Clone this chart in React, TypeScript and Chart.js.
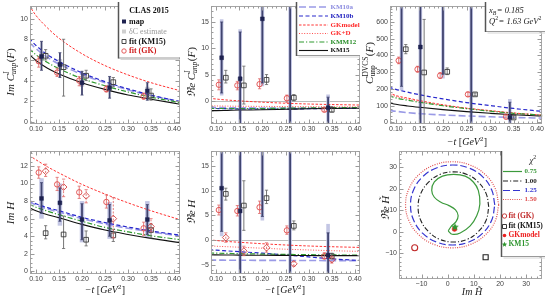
import React, { useEffect, useRef } from "react";
import { Chart, registerables } from "chart.js";
Chart.register(...registerables);

const W = 547;
const H = 302;

// ---------- kinematic bins (-t) ----------
const T_GK = [0.106, 0.146, 0.194, 0.253, 0.334];
const T_MAP = [0.112, 0.152, 0.2, 0.26, 0.342];
const T_KM = [0.121, 0.16, 0.209, 0.268, 0.35];
const T_CURVE = [0.085, 0.1, 0.125, 0.15, 0.2, 0.25, 0.3, 0.35, 0.415];
const T_TICKS = [0.1, 0.15, 0.2, 0.25, 0.3, 0.35, 0.4];

// ---------- panel 1 : Im C^I_unp(F) ----------
const imCMap = [6.33, 5.56, 3.79, 3.32, 3.0];
const imCMapLo = [5.0, 4.3, 2.6, 2.3, 2.1];
const imCMapHi = [7.8, 6.7, 4.9, 4.4, 3.8];
const imCBandLo = [5.9, 5.0, 3.4, 2.9, 2.6];
const imCBandHi = [6.8, 6.1, 4.2, 3.8, 3.4];
const imCGK = [5.87, 4.78, 4.0, 3.17, 2.48];
const imCGKLo = [5.3, 4.4, 3.5, 2.9, 2.2];
const imCGKHi = [6.3, 5.2, 4.4, 3.5, 2.8];
const imCKM = [6.4, 5.3, 4.47, 3.85, 2.55];
const imCKMLo = [6.0, 2.5, 4.0, 3.4, 2.1];
const imCKMHi = [7.0, 8.0, 5.0, 4.3, 3.2];
const imC_KM10a = [7.7, 7.1, 6.25, 5.6, 4.6, 3.8, 3.1, 2.55, 1.95];
const imC_KM10b = [8.1, 7.4, 6.5, 5.85, 4.75, 3.9, 3.2, 2.6, 1.95];
const imC_GK = [11.3, 10.3, 9.1, 8.1, 6.6, 5.45, 4.55, 3.8, 3.0];
const imC_KMM12 = [7.1, 6.5, 5.75, 5.15, 4.2, 3.5, 2.9, 2.4, 1.85];
const imC_KM15 = [6.55, 5.95, 5.2, 4.65, 3.8, 3.15, 2.6, 2.2, 1.7];

// ---------- panel 2 : Re C^I_unp(F) ----------
const reCMap = [8.2, 4.2, 15.6, null, -1.3];
const reCMapLo = [1.5, -10, 3.4, -20, -10];
const reCMapHi = [15.0, 13.1, 30, 30, 0.7];
const reCBandLo = [1.0, -10, 2.8, -20, -10];
const reCBandHi = [15.5, 13.6, 30, 30, 1.2];
const reCGK = [3.06, 2.94, 3.18, 0.5, -1.7];
const reCGKLo = [2.1, 2.1, 2.3, -0.3, -2.0];
const reCGKHi = [4.0, 3.7, 4.2, 1.1, -1.35];
const reCKM = [4.4, 2.94, 4.0, 0.6, -1.7];
const reCKMLo = [3.4, -0.6, 3.1, 0.0, -2.1];
const reCKMHi = [5.8, 6.6, 5.0, 1.2, -1.1];
const reC_KM10a = [-1.25, -1.28, -1.3, -1.32, -1.35, -1.35, -1.35, -1.35, -1.35];
const reC_KM10b = [-1.4, -1.45, -1.5, -1.55, -1.55, -1.55, -1.5, -1.45, -1.4];
const reC_GK = [0.5, 0.35, 0.15, 0.0, -0.25, -0.45, -0.6, -0.7, -0.8];
const reC_GKD = [-0.95, -0.97, -1.0, -1.02, -1.05, -1.08, -1.1, -1.12, -1.15];
const reC_KMM12 = [-1.45, -1.45, -1.45, -1.45, -1.45, -1.4, -1.35, -1.3, -1.25];
const reC_KM15 = [-1.85, -1.85, -1.8, -1.75, -1.7, -1.6, -1.5, -1.45, -1.4];

// ---------- panel 3 : C^DVCS_unp(F) ----------
const cMap = [null, 450, null, null, 30];
const cMapLo = [215, -50, 287, -50, -50];
const cMapHi = [2000, 2000, 2000, 2000, 120];
const cBandLo = [190, -50, 262, -50, -50];
const cBandHi = [2000, 2000, 2000, 2000, 140];
const cGK = [369, 317, 279, 167, 33];
const cGKLo = [350, 300, 262, 155, 25];
const cGKHi = [390, 335, 297, 180, 42];
const cKM = [437, 298, 302, 167, 29];
const cKMLo = [410, -10, 285, 160, 22];
const cKMHi = [465, 615, 325, 175, 38];
const c_KM10a = [72, 66, 58, 52, 44, 38, 33, 29, 25];
const c_KM10b = [210, 197, 180, 165, 140, 118, 100, 83, 64];
const c_GK = [178, 160, 145, 130, 105, 85, 70, 56, 42];
const c_GKD = [170, 154, 138, 124, 101, 83, 68, 55, 42];
const c_KMM12 = [160, 146, 132, 120, 99, 82, 67, 54, 42];
const c_KM15 = [118, 108, 98, 90, 76, 64, 54, 45, 36];

// ---------- panel 4 : Im H ----------
const imHMap = [8.3, 7.8, 5.9, 5.8, 5.9];
const imHMapLo = [6.6, 5.7, 3.6, 4.0, 4.2];
const imHMapHi = [10.1, 9.5, 7.7, 7.6, 7.6];
const imHBandLo = [6.0, 5.2, 3.3, 3.7, 3.8];
const imHBandHi = [10.6, 10.0, 8.0, 7.9, 8.0];
const imHGK = [11.25, 9.9, 9.0, 7.9, 4.9];
const imHGKLo = [10.6, 9.2, 8.3, 7.2, 4.1];
const imHGKHi = [11.9, 10.7, 9.7, 8.7, 5.6];
const imHDia = [11.4, 9.6, 8.6, 6.0, 5.1];
const imHDiaLo = [10.8, 8.5, 7.8, 3.8, 4.5];
const imHDiaHi = [12.2, 10.5, 9.3, 8.4, 6.0];
const imHKM = [4.35, 4.2, 3.6, 4.1, 4.7];
const imHKMLo = [3.7, 2.6, 2.9, 3.4, 3.8];
const imHKMHi = [5.2, 6.3, 4.6, 4.8, 5.4];
const imH_KM10a = [7.9, 7.55, 7.1, 6.75, 6.0, 5.4, 4.9, 4.5, 4.0];
const imH_KM10b = [8.1, 7.7, 7.25, 6.9, 6.15, 5.55, 5.05, 4.6, 4.1];
const imH_GK = [13.2, 12.7, 11.9, 11.2, 9.9, 8.8, 7.8, 6.9, 5.85];
const imH_KMM12 = [7.65, 7.3, 6.85, 6.45, 5.7, 5.0, 4.5, 4.05, 3.6];
const imH_KM15 = [7.25, 6.9, 6.45, 6.1, 5.35, 4.7, 4.2, 3.75, 3.25];

// ---------- panel 5 : Re H ----------
const reHMap = [10.5, 5.9, null, null, -3.0];
const reHMapLo = [1.8, -20, 4.8, -20, -20];
const reHMapHi = [30, 30, 30, 30, 1.5];
const reHBandLo = [0.8, -20, 4.0, -20, -20];
const reHBandHi = [30, 30, 30, 30, 3.3];
const reHGK = [6.1, 5.9, 6.65, 2.0, -3.2];
const reHGKLo = [5.1, 4.9, 5.4, 1.2, -3.8];
const reHGKHi = [7.1, 7.0, 7.9, 2.9, -2.5];
const reHDia = [0.55, -2.2, -1.5, -4.75, -3.9];
const reHDiaLo = [-0.4, -3.1, -2.4, -5.2, -4.6];
const reHDiaHi = [1.5, -1.2, -0.5, -4.3, -3.2];
const reHKM = [9.35, 7.0, 8.5, 2.9, -3.2];
const reHKMLo = [8.1, 2.0, 7.4, 2.1, -3.8];
const reHKMHi = [10.5, 12.0, 10.1, 3.9, -2.6];
const reH_KM10a = [-4.0, -4.0, -4.02, -4.03, -4.05, -4.07, -4.08, -4.1, -4.1];
const reH_KM10b = [-1.9, -2.0, -2.15, -2.3, -2.6, -2.95, -3.35, -3.75, -4.1];
const reH_GK = [0.1, -0.05, -0.25, -0.4, -0.7, -0.95, -1.15, -1.3, -1.45];
const reH_GKD = [-1.1, -1.2, -1.3, -1.4, -1.6, -1.8, -1.95, -2.1, -2.25];
const reH_KMM12 = [-2.55, -2.6, -2.65, -2.7, -2.78, -2.85, -2.9, -2.95, -3.0];
const reH_KM15 = [-2.95, -2.95, -2.97, -3.0, -3.02, -3.05, -3.08, -3.1, -3.1];

// ---------- panel 6 : chi^2 contours in (Im Ht, Re Ht) ----------
const CHI075 = [[0.2, 0.35], [1.7, -1.2], [4.8, -0.6], [8.6, 2.7], [11.1, 7.4], [12.3, 12.9], [11.7, 19.2], [9.8, 23.1], [6.7, 25.8], [2.3, 26.6], [-2.0, 25.8], [-5.1, 23.1], [-6.1, 19.2], [-5.1, 16.0], [-2.6, 13.7], [0.5, 12.1], [3.0, 10.1], [4.0, 7.4], [3.2, 4.7], [1.5, 2.7], [0.2, 0.35]];
const CHI100 = [[15.7, 11.5], [14.7, 17.7], [11.7, 23.0], [7.4, 26.6], [2.2, 27.8], [-3.0, 26.6], [-7.3, 23.0], [-10.3, 17.7], [-11.3, 11.5], [-10.3, 5.3], [-7.3, 0.0], [-3.0, -3.6], [2.2, -4.8], [7.4, -3.6], [11.7, 0.0], [14.7, 5.3], [15.7, 11.5]];
const CHI125 = [[18.0, 12.4], [16.8, 19.5], [13.3, 25.6], [8.1, 29.6], [1.9, 31.0], [-4.3, 29.6], [-9.5, 25.6], [-13.0, 19.5], [-14.2, 12.4], [-13.0, 5.3], [-9.5, -0.8], [-4.3, -4.8], [1.9, -6.2], [8.1, -4.8], [13.3, -0.8], [16.8, 5.3], [18.0, 12.4]];
const CHI150 = [[19.5, 12.5], [18.1, 20.2], [14.3, 26.6], [8.5, 31.0], [1.7, 32.5], [-5.1, 31.0], [-10.9, 26.6], [-14.7, 20.2], [-16.1, 12.5], [-14.7, 4.8], [-10.9, -1.6], [-5.1, -6.0], [1.7, -7.5], [8.5, -6.0], [14.3, -1.6], [18.1, 4.8], [19.5, 12.5]];
const FIT_GK_PT = [[-12.6, -7.5]];
const FIT_KM_PT = [[14.5, -11.9]];
const GKMODEL_PT = [[2.6, 1.2]];
const KM15_PT = [[2.8, 2.1]];
const HT_TICKS = [-10, 0, 10, 20, 30];

// ---------- styles ----------
const NAVY = "#1e2250";
const NAVY_BAR = "#40446f";
const RED = "#e04848";
const RED_BAR = "#e06a6a";
const GRAYK = "#3a3a3a";
const BAND = "#c3c6e4";
const SERIF = '"Liberation Serif", "DejaVu Serif", serif';
const SANS = '"Liberation Sans", "DejaVu Sans", sans-serif';

const CURVE_STYLE: any = {
  KM10a: { color: "#9a9ae6", dash: [7, 3], width: 1.6, text: "#8c8ce0" },
  KM10b: { color: "#2828cc", dash: [4, 2.5], width: 1.2, text: "#2323c0" },
  GKmodel: { color: "#ff3535", dash: [2.5, 1.6], width: 1.0, text: "#ff2a2a" },
  GKD: { color: "#ff5050", dash: [1, 1.6], width: 1.0, text: "#ff2a2a" },
  KMM12: { color: "#2f9a2f", dash: [5, 2, 1.2, 2], width: 1.2, text: "#2b8f2b" },
  KM15: { color: "#111111", dash: [], width: 1.1, text: "#111111" },
};
const CONTOUR_STYLE: any = {
  c075: { color: "#3c9a3c", dash: [], width: 1.2 },
  c100: { color: "#222222", dash: [5, 2, 1.2, 2], width: 1.1 },
  c125: { color: "#3535d0", dash: [7, 3], width: 1.2 },
  c150: { color: "#e05050", dash: [1, 1.3], width: 1.2 },
};

// ---------- helpers ----------
function starPath(ctx: any, x: number, y: number, R: number) {
  const r = R * 0.45;
  ctx.moveTo(x, y - R);
  for (let i = 1; i < 10; i++) {
    const a = -Math.PI / 2 + (i * Math.PI) / 5;
    const rr = i % 2 ? r : R;
    ctx.lineTo(x + rr * Math.cos(a), y + rr * Math.sin(a));
  }
  ctx.closePath();
}
function starImage(color: string, R: number) {
  const c = document.createElement("canvas");
  c.width = c.height = Math.ceil(2 * R + 2);
  const g = c.getContext("2d")!;
  g.fillStyle = color;
  g.beginPath();
  starPath(g, c.width / 2, c.height / 2, R);
  g.fill();
  return c;
}

function drawMarker(ctx: any, m: any, x: number, y: number) {
  ctx.save();
  ctx.setLineDash([]);
  ctx.lineWidth = m.lw ?? 0.9;
  ctx.beginPath();
  if (m.shape === "rect") ctx.rect(x - m.r, y - m.r, 2 * m.r, 2 * m.r);
  else if (m.shape === "circle") ctx.arc(x, y, m.r, 0, Math.PI * 2);
  else if (m.shape === "star") starPath(ctx, x, y, m.r);
  if (m.fill) { ctx.fillStyle = m.fill; ctx.fill(); }
  if (m.stroke) { ctx.strokeStyle = m.stroke; ctx.stroke(); }
  ctx.restore();
}

function drawRich(ctx: any, segs: any[], cx: number, cy: number, size: number, opts: any = {}) {
  ctx.save();
  ctx.translate(cx, cy);
  if (opts.rotate) ctx.rotate(-Math.PI / 2);
  const font = (st: string | undefined, s: number) => `${st || ""} ${s}px ${SERIF}`.trim();
  const widths: number[] = [];
  let total = 0;
  for (const s of segs) {
    let w;
    if (s.t !== undefined) {
      ctx.font = font(s.st, size);
      w = ctx.measureText(s.t).width;
    } else {
      ctx.font = font(s.st, size * 0.68);
      w = Math.max(ctx.measureText(s.sup || "").width, ctx.measureText(s.sub || "").width) + 0.5;
    }
    widths.push(w);
    total += w;
  }
  let x = opts.align === "left" ? 0 : -total / 2;
  const base = size * 0.33;
  ctx.textBaseline = "alphabetic";
  ctx.textAlign = "left";
  segs.forEach((s, i) => {
    ctx.fillStyle = s.color || opts.color || "#1a1a1a";
    if (s.t !== undefined) {
      ctx.font = font(s.st, size);
      ctx.fillText(s.t, x, base);
    } else {
      ctx.font = font(s.st, size * 0.68);
      if (s.sup) ctx.fillText(s.sup, x, base - size * 0.42);
      if (s.sub) ctx.fillText(s.sub, x, base + size * 0.24);
    }
    x += widths[i];
  });
  ctx.restore();
}

function tickValues(min: number, max: number, step: number) {
  const out: number[] = [];
  const s = Math.ceil(min / step - 1e-9);
  for (let k = s; k * step <= max + 1e-9; k++) out.push(+(k * step).toFixed(6));
  return out;
}

// ---------- plugins ----------
const errPlugin = {
  id: "errbars",
  beforeDatasetDraw(chart: any, args: any) {
    const ds = chart.data.datasets[args.index];
    if (!ds.errLo) return;
    const { ctx, chartArea: a } = chart;
    const x = chart.scales.x, y = chart.scales.y;
    ctx.save();
    ctx.beginPath();
    ctx.rect(a.left, a.top, a.right - a.left, a.bottom - a.top);
    ctx.clip();
    ctx.strokeStyle = ds.errColor;
    ds.errX.forEach((xv: number, j: number) => {
      const px = x.getPixelForValue(xv);
      const p1 = y.getPixelForValue(ds.errLo[j]);
      const p2 = y.getPixelForValue(ds.errHi[j]);
      ctx.lineWidth = ds.errWidth;
      ctx.setLineDash(ds.errDash || []);
      ctx.beginPath();
      ctx.moveTo(px, p1);
      ctx.lineTo(px, p2);
      ctx.stroke();
      if (ds.errCap) {
        ctx.setLineDash([]);
        ctx.lineWidth = 0.8;
        ctx.beginPath();
        ctx.moveTo(px - ds.errCap, p1); ctx.lineTo(px + ds.errCap, p1);
        ctx.moveTo(px - ds.errCap, p2); ctx.lineTo(px + ds.errCap, p2);
        ctx.stroke();
      }
    });
    ctx.restore();
  },
};

function makeFrame(cfg: any) {
  return {
    id: "frame",
    beforeDatasetsDraw(chart: any) {
      if (!cfg.zero) return;
      const { ctx, chartArea: a } = chart;
      const py = Math.round(chart.scales.y.getPixelForValue(0)) + 0.5;
      ctx.save();
      ctx.strokeStyle = "#bdbdbd";
      ctx.lineWidth = 1;
      ctx.beginPath();
      ctx.moveTo(a.left, py);
      ctx.lineTo(a.right, py);
      ctx.stroke();
      ctx.restore();
    },
    afterDatasetsDraw(chart: any) {
      const { ctx, chartArea: a } = chart;
      const x = chart.scales.x, y = chart.scales.y;
      ctx.save();
      ctx.strokeStyle = "#a6a6a6";
      ctx.lineWidth = 1;
      const L = Math.round(a.left) + 0.5, T = Math.round(a.top) + 0.5;
      const R = Math.round(a.right) - 0.5, B = Math.round(a.bottom) - 0.5;
      ctx.strokeRect(L, T, R - L, B - T);
      ctx.strokeStyle = "#9a9a9a";
      ctx.beginPath();
      const xmaj = cfg.xMajor, ymaj = cfg.yMajor;
      const isMaj = (v: number, arr: number[], st: number) => arr.some((m) => Math.abs(m - v) < st * 0.1);
      tickValues(x.min, x.max, cfg.xMinor).forEach((v) => {
        const len = isMaj(v, xmaj, cfg.xMinor) ? 4 : 2;
        const px = Math.round(x.getPixelForValue(v)) + 0.5;
        if (px < L || px > R) return;
        ctx.moveTo(px, B); ctx.lineTo(px, B - len);
        ctx.moveTo(px, T); ctx.lineTo(px, T + len);
      });
      tickValues(y.min, y.max, cfg.yMinor).forEach((v) => {
        const len = isMaj(v, ymaj, cfg.yMinor) ? 4 : 2;
        const py = Math.round(y.getPixelForValue(v)) + 0.5;
        if (py < T || py > B) return;
        ctx.moveTo(L, py); ctx.lineTo(L + len, py);
        ctx.moveTo(R, py); ctx.lineTo(R - len, py);
      });
      ctx.stroke();
      ctx.restore();
    },
  };
}

function drawBox(ctx: any, b: any) {
  ctx.save();
  ctx.fillStyle = "#ffffff";
  ctx.fillRect(b.l, b.t, b.r - b.l, b.b - b.t);
  ctx.strokeStyle = "#d6d6d6";
  ctx.lineWidth = 1;
  ctx.beginPath();
  ctx.moveTo(b.l + 2, b.b + 2);
  ctx.lineTo(b.r, b.b + 2);
  ctx.stroke();
  ctx.strokeStyle = "#9a9a9a";
  ctx.beginPath();
  ctx.moveTo(b.l, b.b + 0.5);
  ctx.lineTo(b.r, b.b + 0.5);
  ctx.stroke();
  ctx.strokeStyle = "#555";
  ctx.lineWidth = 1.5;
  ctx.beginPath();
  ctx.moveTo(b.l, b.t);
  ctx.lineTo(b.l, b.b + 1);
  ctx.stroke();
  ctx.restore();
}

function makeOverlay(cfg: any) {
  return {
    id: "overlay",
    afterDraw(chart: any) {
      const ctx = chart.ctx;
      if (cfg.box) {
        drawBox(ctx, cfg.box);
        for (const it of cfg.items) {
          if (it.kind === "line") {
            ctx.save();
            ctx.strokeStyle = it.color;
            ctx.lineWidth = it.width;
            ctx.setLineDash(it.dash);
            ctx.beginPath();
            ctx.moveTo(it.x1, it.y);
            ctx.lineTo(it.x2, it.y);
            ctx.stroke();
            ctx.restore();
          } else if (it.kind === "marker") {
            drawMarker(ctx, it.m, it.x, it.y);
          } else if (it.kind === "text") {
            ctx.save();
            ctx.font = it.font;
            ctx.fillStyle = it.color;
            ctx.textAlign = it.align || "left";
            ctx.textBaseline = "middle";
            ctx.fillText(it.text, it.x, it.y);
            ctx.restore();
          } else if (it.kind === "rich") {
            drawRich(ctx, it.segs, it.x, it.y, it.size, { align: it.align, color: it.color });
          }
        }
      }
      if (cfg.yTitle) drawRich(ctx, cfg.yTitle.segs, cfg.yTitle.x, cfg.yTitle.y, 11, { rotate: true });
      if (cfg.xTitle) drawRich(ctx, cfg.xTitle.segs, cfg.xTitle.x, cfg.xTitle.y, 10, {});
    },
  };
}

// ---------- dataset builders ----------
function pts(xs: number[], ys: any[], style: any, extra: any = {}) {
  return { data: xs.map((x, i) => ({ x, y: ys[i] })), showLine: false, ...style, ...extra };
}
const MAP_STYLE = { pointStyle: "rect", pointRadius: 2.7, backgroundColor: NAVY, borderColor: NAVY, borderWidth: 0.5 };
const GK_STYLE = { pointStyle: "circle", pointRadius: 2.7, backgroundColor: "rgba(0,0,0,0)", borderColor: RED, borderWidth: 0.9 };
const DIA_STYLE = { pointStyle: "rectRot", pointRadius: 3.4, backgroundColor: "rgba(0,0,0,0)", borderColor: "#d44444", borderWidth: 0.9 };
const KM_STYLE = { pointStyle: "rect", pointRadius: 3.3, backgroundColor: "rgba(0,0,0,0)", borderColor: GRAYK, borderWidth: 0.9 };

function curve(key: string, ys: number[]) {
  const s = CURVE_STYLE[key];
  return {
    label: key,
    data: T_CURVE.map((x, i) => ({ x, y: ys[i] })),
    showLine: true,
    borderColor: s.color,
    borderWidth: s.width,
    borderDash: s.dash,
    pointRadius: 0,
    cubicInterpolationMode: "monotone",
    fill: false,
    clip: 0,
  };
}
function contour(key: string, pairs: number[][]) {
  const s = CONTOUR_STYLE[key];
  return {
    label: key,
    data: pairs.map((p) => ({ x: p[0], y: p[1] })),
    showLine: true,
    borderColor: s.color,
    borderWidth: s.width,
    borderDash: s.dash,
    pointRadius: 0,
    tension: 0.4,
    fill: false,
  };
}

function tSets(d: any) {
  const sets: any[] = [];
  sets.push(pts(T_MAP, d.map, MAP_STYLE, { errX: T_MAP, errLo: d.mapLo, errHi: d.mapHi, errColor: NAVY_BAR, errWidth: 1.8, errCap: 1.5 }));
  sets.push(pts(T_GK, d.gk, GK_STYLE, { errX: T_GK, errLo: d.gkLo, errHi: d.gkHi, errColor: RED_BAR, errWidth: 0.9, errCap: 1.6 }));
  if (d.dia) sets.push(pts(T_KM, d.dia, DIA_STYLE, { errX: T_KM, errLo: d.diaLo, errHi: d.diaHi, errColor: RED_BAR, errWidth: 0.9, errCap: 1.6, errDash: [2, 1.5] }));
  sets.push(pts(T_KM, d.km, KM_STYLE, { errX: T_KM, errLo: d.kmLo, errHi: d.kmHi, errColor: "#666", errWidth: 0.9, errCap: 1.6 }));
  d.curves.forEach((c: any) => sets.push(curve(c[0], c[1])));
  sets.push({ data: [], showLine: false, pointRadius: 0, errX: T_MAP, errLo: d.bandLo, errHi: d.bandHi, errColor: d.bandColor || BAND, errWidth: d.bandWidth || 3.6, errCap: 0 });
  return sets;
}

const YW = 30;
const XH = 14;
const minus = (v: number) => String(v).replace("-", "\u2212");

function makeConfig(p: any) {
  return {
    type: "scatter",
    data: { datasets: p.datasets },
    options: {
      animation: false,
      responsive: false,
      devicePixelRatio: 1,
      events: [],
      layout: { padding: { left: p.rect.l - YW, top: p.rect.t, right: W - p.rect.r, bottom: H - p.rect.b - XH } },
      scales: {
        x: {
          type: "linear",
          min: p.xr[0],
          max: p.xr[1],
          afterFit: (s: any) => { s.height = XH; },
          afterBuildTicks: (s: any) => { s.ticks = p.xticks.map((v: number) => ({ value: v })); },
          grid: { display: false, drawTicks: false },
          border: { display: false },
          ticks: {
            font: { family: SANS, size: 7 },
            color: "#444",
            padding: 1,
            maxRotation: 0,
            minRotation: 0,
            autoSkip: false,
            callback: p.xfmt,
          },
        },
        y: {
          type: "linear",
          min: p.yr[0],
          max: p.yr[1],
          afterFit: (s: any) => { s.width = YW; },
          afterBuildTicks: (s: any) => { s.ticks = p.yticks.map((v: number) => ({ value: v })); },
          grid: { display: false, drawTicks: false },
          border: { display: false },
          ticks: {
            font: { family: SANS, size: 7 },
            color: "#444",
            padding: 2,
            autoSkip: false,
            callback: (v: any) => minus(v),
          },
        },
      },
      plugins: { legend: { display: false }, tooltip: { enabled: false } },
    },
    plugins: [
      makeFrame({ xMajor: p.xticks, yMajor: p.yticks, xMinor: p.xMinor, yMinor: p.yMinor, zero: p.zero }),
      errPlugin,
      makeOverlay({ box: p.box, items: p.items || [], yTitle: p.yTitle, xTitle: p.xTitle }),
    ],
  };
}

const tfmt = (v: any) => Number(v).toFixed(2);
const TTITLE = [{ t: "\u2212t ", st: "italic" }, { t: "[" }, { t: "GeV", st: "italic" }, { sup: "2" }, { t: "]" }];
const CI_TAIL = [{ t: "C", st: "italic" }, { sup: "I", sub: "unp", st: "italic" }, { t: "(" }, { t: "F", st: "italic" }, { t: ")" }];

function curveLegendItems(keys: string[], labels: string[], ys: number[], x1: number, x2: number, tx: number) {
  const items: any[] = [];
  keys.forEach((k, i) => {
    const s = CURVE_STYLE[k];
    items.push({ kind: "line", x1, x2, y: ys[i], color: s.color, dash: s.dash, width: s.width });
    items.push({ kind: "text", text: labels[i], x: tx, y: ys[i], font: `bold 7px ${SERIF}`, color: s.text });
  });
  return items;
}

const PANELS: Array<() => any> = [
  // 1: Im C^I
  () =>
    makeConfig({
      rect: { l: 30, t: 2, r: 180, b: 124 },
      xr: [0.087, 0.413], yr: [-0.2, 11.2],
      xticks: T_TICKS, yticks: [0, 2, 4, 6, 8, 10], xMinor: 0.01, yMinor: 0.5, xfmt: tfmt,
      datasets: tSets({
        map: imCMap, mapLo: imCMapLo, mapHi: imCMapHi, bandLo: imCBandLo, bandHi: imCBandHi, bandColor: "#d0d0d8", bandWidth: 4.5,
        gk: imCGK, gkLo: imCGKLo, gkHi: imCGKHi, km: imCKM, kmLo: imCKMLo, kmHi: imCKMHi,
        curves: [["KM15", imC_KM15], ["KMM12", imC_KMM12], ["GKmodel", imC_GK], ["KM10b", imC_KM10b], ["KM10a", imC_KM10a]],
      }),
      box: { l: 118.5, t: 2, r: 180, b: 57.5 },
      items: [
        { kind: "text", text: "CLAS 2015", x: 149, y: 10.5, font: `bold 8px ${SERIF}`, color: "#111", align: "center" },
        { kind: "marker", x: 124, y: 21.5, m: { shape: "rect", r: 2, fill: NAVY } },
        { kind: "text", text: "map", x: 129, y: 21.5, font: `bold 8px ${SERIF}`, color: "#111" },
        { kind: "marker", x: 124, y: 31.5, m: { shape: "rect", r: 2, fill: "#cfcfcf" } },
        { kind: "text", text: "\u03b4C estimate", x: 129, y: 31.5, font: `8px ${SERIF}`, color: "#9a9a9a" },
        { kind: "marker", x: 124, y: 41.5, m: { shape: "rect", r: 2, stroke: "#333" } },
        { kind: "text", text: "fit (KM15)", x: 129, y: 41.5, font: `bold 8px ${SERIF}`, color: "#111" },
        { kind: "marker", x: 124, y: 51, m: { shape: "circle", r: 2.2, stroke: RED } },
        { kind: "text", text: "fit (GK)", x: 129, y: 51, font: `bold 8px ${SERIF}`, color: "#d02020" },
      ],
      yTitle: { segs: [{ t: "Im ", st: "italic" }, ...CI_TAIL], x: 10, y: 72 },
    }),
  // 2: Re C^I
  () =>
    makeConfig({
      rect: { l: 211, t: 2, r: 360, b: 124 },
      xr: [0.089, 0.411], yr: [-4.4, 18.0],
      xticks: T_TICKS, yticks: [0, 5, 10, 15], xMinor: 0.01, yMinor: 1, xfmt: tfmt, zero: true,
      datasets: tSets({
        map: reCMap, mapLo: reCMapLo, mapHi: reCMapHi, bandLo: reCBandLo, bandHi: reCBandHi,
        gk: reCGK, gkLo: reCGKLo, gkHi: reCGKHi, km: reCKM, kmLo: reCKMLo, kmHi: reCKMHi,
        curves: [["KM15", reC_KM15], ["KMM12", reC_KMM12], ["GKD", reC_GKD], ["GKmodel", reC_GK], ["KM10b", reC_KM10b], ["KM10a", reC_KM10a]],
      }),
      box: { l: 296.5, t: 2, r: 360, b: 55 },
      items: curveLegendItems(
        ["KM10a", "KM10b", "GKmodel", "GKD", "KMM12", "KM15"],
        ["KM10a", "KM10b", "GKmodel", "GK+D", "KMM12", "KM15"],
        [7, 16, 25, 33.5, 42, 50.5], 299, 328, 330.5
      ),
      yTitle: { segs: [{ t: "\u211ce ", st: "italic" }, ...CI_TAIL], x: 191, y: 72 },
    }),
  // 3: C^DVCS
  () =>
    makeConfig({
      rect: { l: 390, t: 2, r: 545, b: 124 },
      xr: [0.0875, 0.4105], yr: [-10, 694],
      xticks: T_TICKS, yticks: [0, 100, 200, 300, 400, 500, 600], xMinor: 0.01, yMinor: 20, xfmt: tfmt,
      datasets: tSets({
        map: cMap, mapLo: cMapLo, mapHi: cMapHi, bandLo: cBandLo, bandHi: cBandHi,
        gk: cGK, gkLo: cGKLo, gkHi: cGKHi, km: cKM, kmLo: cKMLo, kmHi: cKMHi,
        curves: [["KM15", c_KM15], ["KMM12", c_KMM12], ["GKD", c_GKD], ["GKmodel", c_GK], ["KM10b", c_KM10b], ["KM10a", c_KM10a]],
      }),
      box: { l: 485.5, t: 2, r: 545, b: 31 },
      items: [
        { kind: "rich", x: 489, y: 10, size: 8.5, align: "left", segs: [{ t: "x", st: "italic" }, { sub: "B", st: "italic" }, { t: "= 0.185", st: "italic" }] },
        { kind: "rich", x: 489, y: 21, size: 8.5, align: "left", segs: [{ t: "Q", st: "italic" }, { sup: "2" }, { t: "= 1.63 GeV", st: "italic" }, { sup: "2" }] },
      ],
      yTitle: { segs: [{ t: "C", st: "italic" }, { sup: "DVCS", sub: "unp" }, { t: "(" }, { t: "F", st: "italic" }, { t: ")" }], x: 369, y: 63 },
      xTitle: { segs: TTITLE, x: 467, y: 142 },
    }),
  // 4: Im H
  () =>
    makeConfig({
      rect: { l: 30, t: 151, r: 180, b: 274 },
      xr: [0.087, 0.413], yr: [-0.3, 13.7],
      xticks: T_TICKS, yticks: [0, 2, 4, 6, 8, 10, 12], xMinor: 0.01, yMinor: 0.5, xfmt: tfmt,
      datasets: tSets({
        map: imHMap, mapLo: imHMapLo, mapHi: imHMapHi, bandLo: imHBandLo, bandHi: imHBandHi, bandWidth: 4.5,
        gk: imHGK, gkLo: imHGKLo, gkHi: imHGKHi, dia: imHDia, diaLo: imHDiaLo, diaHi: imHDiaHi,
        km: imHKM, kmLo: imHKMLo, kmHi: imHKMHi,
        curves: [["KM15", imH_KM15], ["KMM12", imH_KMM12], ["GKmodel", imH_GK], ["KM10b", imH_KM10b], ["KM10a", imH_KM10a]],
      }),
      yTitle: { segs: [{ t: "Im ", st: "italic" }, { t: "H", st: "italic" }], x: 10, y: 213 },
      xTitle: { segs: TTITLE, x: 105, y: 290 },
    }),
  // 5: Re H
  () =>
    makeConfig({
      rect: { l: 211, t: 151, r: 360, b: 274 },
      xr: [0.089, 0.411], yr: [-6.8, 18],
      xticks: T_TICKS, yticks: [-5, 0, 5, 10, 15], xMinor: 0.01, yMinor: 1, xfmt: tfmt, zero: true,
      datasets: tSets({
        map: reHMap, mapLo: reHMapLo, mapHi: reHMapHi, bandLo: reHBandLo, bandHi: reHBandHi,
        gk: reHGK, gkLo: reHGKLo, gkHi: reHGKHi, dia: reHDia, diaLo: reHDiaLo, diaHi: reHDiaHi,
        km: reHKM, kmLo: reHKMLo, kmHi: reHKMHi,
        curves: [["KM15", reH_KM15], ["KMM12", reH_KMM12], ["GKD", reH_GKD], ["GKmodel", reH_GK], ["KM10b", reH_KM10b], ["KM10a", reH_KM10a]],
      }),
      yTitle: { segs: [{ t: "\u211ce ", st: "italic" }, { t: "H", st: "italic" }], x: 191, y: 212 },
      xTitle: { segs: TTITLE, x: 285, y: 290 },
    }),
  // 6: chi^2 contours
  () => {
    const star = starImage("#2f962f", 4);
    const asPts = (arr: number[][]) => arr.map((p) => p[0]);
    const asYs = (arr: number[][]) => arr.map((p) => p[1]);
    return makeConfig({
      rect: { l: 399, t: 151, r: 545, b: 279 },
      xr: [-18.6, 36], yr: [-22, 37.5],
      xticks: HT_TICKS, yticks: HT_TICKS, xMinor: 2, yMinor: 2, xfmt: (v: any) => minus(v),
      datasets: [
        pts(asPts(KM15_PT), asYs(KM15_PT), { pointStyle: star, pointRadius: 4 }),
        pts(asPts(GKMODEL_PT), asYs(GKMODEL_PT), { pointStyle: "circle", pointRadius: 2.4, backgroundColor: "#e82020", borderColor: "#e82020", borderWidth: 0.5 }),
        pts(asPts(FIT_GK_PT), asYs(FIT_GK_PT), { pointStyle: "circle", pointRadius: 3, backgroundColor: "rgba(0,0,0,0)", borderColor: "#c02828", borderWidth: 1.1 }),
        pts(asPts(FIT_KM_PT), asYs(FIT_KM_PT), { pointStyle: "rect", pointRadius: 3.6, backgroundColor: "rgba(0,0,0,0)", borderColor: "#222", borderWidth: 1.1 }),
        contour("c075", CHI075),
        contour("c100", CHI100),
        contour("c125", CHI125),
        contour("c150", CHI150),
      ],
      box: { l: 501.5, t: 151, r: 545, b: 256 },
      items: [
        { kind: "rich", x: 533, y: 160, size: 8.5, segs: [{ t: "\u03c7", st: "italic" }, { sup: "2" }] },
        ...(["c075", "c100", "c125", "c150"] as string[]).flatMap((k, i) => {
          const s = CONTOUR_STYLE[k];
          const y = [171.5, 181, 190.5, 199.5][i];
          return [
            { kind: "line", x1: 503, x2: 522, y, color: s.color, dash: s.dash, width: s.width },
            { kind: "text", text: ["0.75", "1.00", "1.25", "1.50"][i], x: 524.5, y, font: `bold 7px ${SERIF}`, color: s.color },
          ];
        }),
        { kind: "marker", x: 504.5, y: 216, m: { shape: "circle", r: 2.2, stroke: "#c02828" } },
        { kind: "text", text: "fit (GK)", x: 508.5, y: 216, font: `bold 7.5px ${SERIF}`, color: "#c02828" },
        { kind: "marker", x: 504.5, y: 226.5, m: { shape: "rect", r: 2, stroke: "#222" } },
        { kind: "text", text: "fit (KM15)", x: 508.5, y: 226.5, font: `bold 7.5px ${SERIF}`, color: "#111" },
        { kind: "marker", x: 504.5, y: 235.5, m: { shape: "circle", r: 1.8, fill: "#e82020" } },
        { kind: "text", text: "GKmodel", x: 508.5, y: 235.5, font: `bold 7.5px ${SERIF}`, color: "#ee2020" },
        { kind: "marker", x: 504.5, y: 244.5, m: { shape: "star", r: 2.8, fill: "#2f962f" } },
        { kind: "text", text: "KM15", x: 508.5, y: 244.5, font: `bold 7.5px ${SERIF}`, color: "#2f962f" },
      ],
      yTitle: { segs: [{ t: "\u211ce ", st: "italic" }, { t: "H\u0303", st: "italic" }], x: 385, y: 208 },
      xTitle: { segs: [{ t: "Im ", st: "italic" }, { t: "H\u0303", st: "italic" }], x: 472, y: 292 },
    });
  },
];

function Panel({ make }: { make: () => any }) {
  const ref = useRef<HTMLCanvasElement>(null);
  useEffect(() => {
    const chart = new Chart(ref.current as HTMLCanvasElement, make());
    return () => chart.destroy();
  }, [make]);
  return (
    <canvas
      ref={ref}
      width={W}
      height={H}
      style={{ position: "absolute", left: 0, top: 0, width: W, height: H, pointerEvents: "none" }}
    />
  );
}

export default function App() {
  return (
    <div style={{ position: "absolute", left: 0, top: 0, width: W, height: H, background: "#fff", overflow: "hidden" }}>
      {PANELS.map((m, i) => (
        <Panel key={i} make={m} />
      ))}
    </div>
  );
}
